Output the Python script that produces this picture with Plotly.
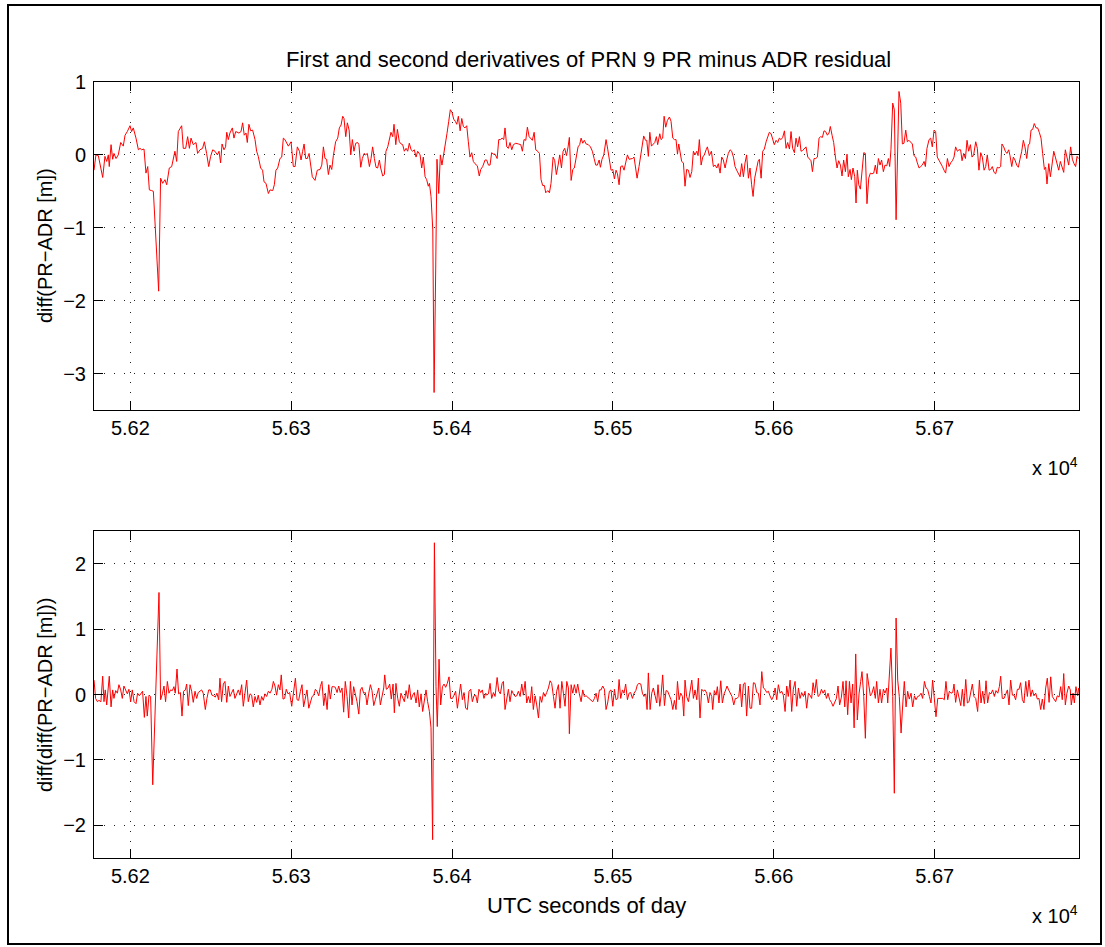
import plotly.graph_objects as go

# First derivative of the PR minus ADR residual (metres), sampled against UTC seconds of day
t_first = [
    56177.4, 56178.6, 56180.1, 56182.8, 56184.2, 56185.3, 56186.3, 56186.9, 56188.0, 56189.0,
    56189.8, 56191.1, 56192.5, 56194.0, 56195.6, 56196.7, 56198.1, 56199.8, 56200.8, 56201.8,
    56203.5, 56205.0, 56206.0, 56207.0, 56208.5, 56209.7, 56210.8, 56211.8, 56213.2, 56214.3,
    56217.6, 56218.8, 56220.1, 56221.5, 56222.6, 56223.2, 56224.2, 56225.7, 56226.7, 56227.7,
    56228.8, 56229.8, 56231.9, 56232.9, 56234.4, 56235.6, 56236.7, 56237.7, 56239.1, 56240.8,
    56241.8, 56243.3, 56244.9, 56246.0, 56247.4, 56248.7, 56249.9, 56251.2, 56252.6, 56254.1,
    56255.1, 56256.1, 56257.0, 56258.2, 56259.2, 56259.9, 56260.9, 56261.9, 56263.4, 56264.4,
    56265.5, 56266.5, 56267.5, 56268.8, 56269.8, 56270.8, 56271.9, 56272.7, 56273.7, 56274.8,
    56276.0, 56277.5, 56278.5, 56279.5, 56281.0, 56282.2, 56283.1, 56284.3, 56285.8, 56286.8,
    56288.5, 56289.5, 56290.5, 56291.6, 56293.0, 56294.1, 56295.1, 56296.1, 56297.2, 56298.2,
    56299.9, 56300.3, 56301.3, 56302.4, 56303.8, 56305.1, 56306.1, 56307.1, 56308.0, 56309.0,
    56310.0, 56311.1, 56312.1, 56313.1, 56314.8, 56316.2, 56317.9, 56319.0, 56320.0, 56321.0,
    56322.0, 56323.1, 56324.1, 56325.2, 56326.2, 56327.6, 56328.9, 56329.9, 56331.0, 56332.0,
    56332.8, 56333.9, 56334.9, 56336.0, 56337.0, 56338.0, 56339.0, 56340.1, 56341.3, 56342.1,
    56343.2, 56344.2, 56345.3, 56346.3, 56347.3, 56348.6, 56349.6, 56350.6, 56351.7, 56352.7,
    56353.7, 56354.8, 56355.6, 56356.9, 56357.9, 56358.9, 56360.0, 56361.0, 56362.0, 56363.1,
    56363.9, 56365.0, 56366.0, 56367.2, 56368.3, 56369.3, 56370.3, 56371.4, 56372.4, 56373.4,
    56374.5, 56375.5, 56376.5, 56377.6, 56378.6, 56380.1, 56381.1, 56382.1, 56383.2, 56384.2,
    56385.2, 56385.9, 56386.9, 56388.0, 56388.8, 56389.8, 56390.6, 56391.7, 56392.7, 56393.7,
    56394.8, 56395.8, 56396.8, 56397.9, 56398.9, 56400.0, 56401.0, 56402.0, 56402.9, 56403.9,
    56405.0, 56406.0, 56407.0, 56408.0, 56409.1, 56410.1, 56411.1, 56412.2, 56413.2, 56414.2,
    56415.7, 56416.9, 56417.8, 56419.0, 56420.5, 56421.5, 56422.6, 56423.6, 56424.6, 56425.7,
    56426.7, 56428.0, 56429.0, 56430.0, 56431.1, 56432.1, 56432.9, 56434.0, 56435.0, 56436.0,
    56437.1, 56438.1, 56439.6, 56441.2, 56442.7, 56443.7, 56444.7, 56445.8, 56446.8, 56447.9,
    56448.9, 56449.9, 56451.0, 56452.0, 56453.2, 56454.3, 56455.3, 56456.3, 56457.4, 56458.2,
    56459.5, 56460.5, 56461.5, 56462.8, 56463.8, 56464.8, 56465.9, 56466.9, 56468.0, 56469.0,
    56470.0, 56471.1, 56472.1, 56472.9, 56474.0, 56475.0, 56476.0, 56477.3, 56478.3, 56479.3,
    56480.2, 56481.2, 56482.2, 56483.3, 56484.7, 56486.0, 56487.2, 56488.3, 56489.3, 56490.3,
    56491.4, 56492.2, 56493.2, 56494.3, 56495.7, 56496.8, 56497.8, 56498.8, 56499.9, 56500.9,
    56501.9, 56502.8, 56503.8, 56504.8, 56505.9, 56506.9, 56507.9, 56509.0, 56510.0, 56511.0,
    56512.1, 56513.1, 56514.2, 56515.0, 56516.2, 56517.3, 56518.3, 56519.1, 56520.2, 56521.0,
    56522.0, 56522.9, 56523.9, 56524.9, 56526.0, 56527.0, 56527.8, 56529.1, 56529.9, 56530.9,
    56531.8, 56532.8, 56533.8, 56535.1, 56536.1, 56537.2, 56538.2, 56539.2, 56540.1, 56540.9,
    56542.7, 56543.8, 56544.8, 56545.8, 56546.9, 56547.9, 56549.0, 56550.0, 56551.0, 56552.1,
    56552.9, 56553.7, 56554.8, 56555.8, 56556.8, 56557.9, 56558.7, 56559.9, 56561.2, 56562.4,
    56563.5, 56564.5, 56565.5, 56566.6, 56567.6, 56568.6, 56569.7, 56570.7, 56571.7, 56572.8,
    56573.8, 56574.9, 56575.9, 56576.9, 56578.0, 56579.0, 56580.0, 56581.1, 56582.1, 56583.1,
    56584.2, 56585.2, 56586.2, 56587.1, 56588.1, 56589.1, 56590.2, 56591.0, 56592.1, 56593.1,
    56594.1, 56595.2, 56596.2, 56597.2, 56598.3, 56599.3, 56600.3, 56601.4, 56602.4, 56603.4,
    56604.5, 56605.5, 56606.6, 56607.6, 56608.6, 56609.7, 56610.7, 56611.7, 56612.8, 56613.8,
    56614.8, 56615.9, 56616.9, 56617.9, 56619.0, 56620.0, 56621.1, 56622.1, 56623.1, 56624.0,
    56625.0, 56626.0, 56627.1, 56628.1, 56629.1, 56630.2, 56631.2, 56632.2, 56633.3, 56634.3,
    56635.1, 56636.2, 56637.2, 56638.3, 56639.3, 56640.3, 56641.4, 56642.4, 56643.4, 56644.5,
    56645.5, 56646.3, 56647.4, 56648.2, 56649.2, 56650.3, 56651.1, 56651.9, 56652.8, 56653.8,
    56654.8, 56655.9, 56656.9, 56657.9, 56659.0, 56660.0, 56661.0, 56662.1, 56663.1, 56664.0,
    56665.0, 56666.0, 56667.0, 56668.1, 56669.1, 56670.2, 56671.2, 56672.0, 56672.8, 56673.9,
    56674.9, 56676.0, 56677.8, 56678.9, 56679.9, 56680.9, 56682.0, 56683.0, 56684.0, 56685.1,
    56686.1, 56687.1, 56688.2, 56689.2, 56690.3, 56691.3, 56692.3, 56693.4, 56694.2, 56695.2,
    56696.5, 56697.5, 56698.5, 56699.6, 56700.6, 56701.6, 56702.7, 56703.7, 56704.8, 56705.8,
    56706.8, 56707.9, 56708.9, 56709.9, 56711.0, 56712.0, 56713.0, 56714.1, 56715.1, 56716.1,
    56717.0, 56718.0, 56719.1, 56720.1, 56721.1, 56722.2, 56723.2, 56724.2, 56725.5, 56726.5,
    56727.5, 56728.6, 56729.6, 56730.7, 56731.7, 56732.7, 56733.8, 56734.8, 56735.8, 56736.9,
    56737.9, 56738.9, 56740.0, 56741.0, 56741.8, 56742.9, 56743.9, 56744.9, 56746.0, 56746.8,
    56747.9, 56748.9, 56749.9, 56751.0, 56752.0, 56753.0, 56754.1, 56755.1, 56756.1, 56757.2,
    56758.2, 56759.0, 56759.9, 56760.9, 56761.9, 56763.0, 56764.0, 56765.0, 56766.1, 56767.1,
    56768.2, 56769.0, 56769.8, 56770.9, 56771.9, 56772.9, 56774.0, 56775.0, 56776.0, 56777.1,
    56778.1, 56779.1, 56780.2, 56781.2, 56782.2, 56783.3, 56784.5, 56785.6, 56786.6, 56787.6,
    56788.5, 56789.3,
]
d_first = [
    -0.21, 0.00, -0.01, -0.31, -0.02, -0.09, 0.00, -0.16, 0.14, -0.06,
    0.02, -0.05, 0.00, 0.17, 0.12, 0.27, 0.32, 0.40, 0.32, 0.37,
    0.23, 0.07, 0.09, 0.07, 0.08, -0.25, -0.16, -0.48, -0.49, -0.50,
    -1.87, -0.32, -0.39, -0.34, -0.41, -0.30, -0.18, -0.16, -0.05, 0.05,
    -0.09, 0.32, 0.40, 0.09, 0.09, 0.25, 0.09, 0.23, 0.14, 0.17,
    0.02, 0.07, 0.09, 0.18, 0.02, -0.16, -0.02, 0.07, 0.05, 0.00,
    0.05, -0.11, 0.15, 0.07, 0.11, 0.31, 0.21, 0.30, 0.37, 0.23,
    0.32, 0.31, 0.30, 0.32, 0.44, 0.27, 0.30, 0.17, 0.42, 0.33,
    0.34, 0.21, 0.05, -0.02, -0.18, -0.21, -0.37, -0.39, -0.53, -0.48,
    -0.49, -0.41, -0.21, -0.18, -0.05, -0.03, 0.23, 0.21, 0.16, 0.12,
    0.18, 0.07, -0.16, -0.16, 0.11, 0.05, -0.07, 0.05, 0.15, -0.05,
    -0.05, 0.02, -0.14, -0.30, -0.35, -0.21, -0.20, -0.14, 0.11, -0.05,
    -0.06, -0.27, -0.14, -0.20, -0.01, 0.18, 0.23, 0.37, 0.41, 0.53,
    0.50, 0.25, 0.44, 0.34, 0.00, 0.21, 0.05, 0.16, 0.17, 0.14,
    -0.17, -0.05, 0.02, 0.00, 0.02, -0.16, -0.05, 0.11, -0.05, -0.17,
    -0.18, -0.07, -0.18, -0.29, -0.27, 0.05, 0.11, 0.20, 0.31, 0.25,
    0.42, 0.14, 0.35, 0.18, 0.15, 0.14, 0.05, 0.09, 0.05, 0.16,
    0.07, 0.05, 0.07, -0.03, 0.05, 0.00, -0.18, -0.03, -0.30, -0.34,
    -0.43, -0.39, -0.57, -1.03, -3.26, -1.58, -0.06, -0.53, 0.00, -0.14,
    0.00, 0.14, 0.29, 0.46, 0.62, 0.58, 0.49, 0.46, 0.42, 0.53,
    0.33, 0.50, 0.39, 0.37, 0.40, 0.18, -0.03, 0.03, -0.09, -0.12,
    -0.15, -0.29, -0.20, -0.16, -0.07, -0.07, -0.14, -0.14, 0.03, 0.01,
    0.01, -0.05, 0.21, 0.21, 0.23, 0.21, 0.37, 0.11, 0.09, 0.17,
    0.07, 0.14, 0.16, 0.15, 0.14, 0.05, 0.21, 0.20, 0.38, 0.25,
    0.23, 0.20, 0.31, 0.07, 0.05, 0.02, -0.34, -0.42, -0.42, -0.52,
    -0.49, -0.52, -0.39, -0.03, -0.08, -0.27, -0.14, 0.00, -0.18, 0.05,
    0.09, -0.01, 0.11, 0.24, -0.35, -0.20, -0.18, -0.01, 0.11, 0.14,
    0.23, 0.16, 0.20, 0.15, 0.14, 0.11, 0.05, -0.05, -0.14, -0.14,
    -0.07, -0.17, -0.06, 0.00, 0.21, 0.07, -0.11, -0.21, -0.20, -0.33,
    -0.21, -0.26, -0.41, -0.16, -0.15, -0.21, -0.11, 0.00, -0.06, -0.06,
    -0.05, -0.03, -0.25, -0.32, -0.16, 0.02, 0.16, 0.26, 0.20, 0.20,
    -0.02, 0.31, 0.12, 0.15, 0.17, 0.25, 0.14, 0.29, 0.21, 0.23,
    0.53, 0.38, 0.47, 0.52, 0.46, 0.23, 0.21, 0.21, 0.01, 0.15,
    -0.09, -0.11, -0.43, -0.20, -0.21, -0.31, -0.23, 0.05, 0.00, 0.05,
    -0.01, 0.21, -0.14, -0.03, 0.00, 0.07, 0.11, -0.01, 0.05, -0.16,
    -0.14, -0.18, -0.12, -0.25, -0.03, -0.07, -0.18, -0.07, 0.02, 0.07,
    0.05, -0.03, -0.16, -0.21, -0.27, -0.30, -0.12, -0.30, -0.11, 0.00,
    -0.32, -0.18, -0.41, -0.57, -0.32, -0.18, -0.09, -0.06, -0.32, 0.05,
    0.08, 0.18, 0.26, 0.31, 0.29, 0.21, 0.14, 0.20, 0.17, 0.23,
    0.21, 0.24, 0.33, 0.09, 0.17, 0.08, 0.32, 0.09, 0.03, 0.23,
    0.11, 0.25, 0.05, 0.06, 0.08, 0.11, -0.03, -0.05, -0.08, -0.23,
    -0.05, -0.05, -0.03, 0.23, 0.25, 0.24, 0.33, 0.32, 0.27, 0.30,
    0.39, 0.27, 0.17, -0.03, -0.18, -0.08, -0.14, -0.29, -0.07, -0.23,
    0.01, -0.30, -0.20, -0.34, -0.18, -0.30, -0.66, -0.21, -0.41, -0.47,
    -0.21, 0.03, 0.02, -0.67, -0.32, -0.25, -0.26, -0.25, -0.14, -0.26,
    -0.05, -0.14, -0.07, -0.23, -0.14, -0.15, -0.05, -0.16, 0.07, 0.71,
    0.62, -0.89, 0.87, 0.71, 0.15, 0.16, 0.34, 0.18, 0.20, 0.17,
    0.15, -0.01, -0.03, -0.11, -0.18, -0.16, -0.14, -0.09, -0.16, 0.09,
    0.21, 0.23, 0.11, 0.34, 0.32, -0.03, -0.07, -0.11, -0.16, -0.21,
    -0.25, -0.05, -0.16, -0.11, -0.08, -0.03, 0.11, 0.05, 0.07, 0.07,
    -0.08, 0.02, -0.05, 0.20, 0.05, 0.14, -0.03, 0.00, 0.18, 0.09,
    -0.21, 0.03, -0.03, -0.21, -0.16, 0.00, -0.21, -0.20, -0.16, -0.24,
    -0.26, -0.17, -0.18, -0.16, 0.15, 0.11, 0.05, 0.02, 0.07, -0.01,
    -0.16, -0.03, -0.07, -0.14, -0.17, -0.06, 0.05, 0.20, 0.11, -0.05,
    0.14, 0.15, 0.34, 0.35, 0.43, 0.37, 0.37, 0.31, 0.23, 0.02,
    -0.20, -0.17, -0.40, -0.12, -0.30, -0.14, 0.05, -0.03, -0.11, -0.21,
    -0.09, -0.16, -0.24, 0.07, -0.05, -0.14, 0.11, -0.06, -0.12, -0.16,
    -0.02, -0.05,
]

# Second derivative of the same residual
t_second = [
    56177.4, 56178.4, 56179.5, 56180.5, 56181.7, 56182.8, 56183.6, 56184.4, 56185.3, 56186.1,
    56186.9, 56188.0, 56189.0, 56189.8, 56190.9, 56191.9, 56192.9, 56194.0, 56195.0, 56196.0,
    56197.1, 56198.1, 56199.1, 56200.2, 56201.2, 56202.3, 56203.5, 56204.5, 56205.6, 56206.6,
    56207.6, 56208.7, 56209.7, 56210.5, 56211.6, 56212.6, 56213.9, 56217.8, 56218.8, 56219.9,
    56220.9, 56221.9, 56223.0, 56224.0, 56225.0, 56226.1, 56227.1, 56227.9, 56229.0, 56230.0,
    56231.1, 56232.1, 56233.1, 56234.2, 56235.0, 56236.0, 56237.1, 56238.1, 56239.1, 56240.2,
    56241.2, 56242.2, 56243.3, 56244.3, 56245.3, 56246.6, 56247.6, 56248.7, 56249.7, 56250.7,
    56251.8, 56252.8, 56253.8, 56254.9, 56255.7, 56256.7, 56257.8, 56258.8, 56259.9, 56260.9,
    56261.9, 56263.0, 56264.0, 56265.0, 56266.1, 56267.1, 56268.1, 56269.2, 56270.2, 56271.2,
    56272.3, 56273.3, 56274.4, 56275.4, 56276.4, 56277.5, 56278.5, 56279.5, 56280.6, 56281.6,
    56282.6, 56283.7, 56284.7, 56285.8, 56286.8, 56288.0, 56288.9, 56289.9, 56290.9, 56292.0,
    56293.0, 56293.8, 56294.9, 56295.9, 56296.9, 56298.0, 56299.0, 56300.3, 56301.3, 56302.6,
    56303.6, 56304.6, 56305.7, 56306.7, 56307.7, 56308.8, 56309.8, 56310.9, 56311.9, 56313.0,
    56314.0, 56315.0, 56316.0, 56317.1, 56318.1, 56319.1, 56320.2, 56321.2, 56322.3, 56323.3,
    56324.3, 56325.4, 56326.4, 56327.4, 56328.5, 56329.5, 56330.5, 56331.6, 56332.6, 56333.6,
    56334.7, 56335.7, 56336.8, 56337.8, 56338.8, 56339.9, 56340.9, 56342.0, 56343.0, 56344.0,
    56345.0, 56346.1, 56347.1, 56348.2, 56349.2, 56350.2, 56351.3, 56352.3, 56353.3, 56354.4,
    56355.4, 56356.4, 56357.5, 56358.1, 56359.1, 56360.2, 56361.2, 56362.2, 56363.3, 56364.1,
    56365.1, 56366.2, 56367.2, 56368.2, 56369.3, 56370.3, 56371.4, 56372.4, 56373.4, 56374.5,
    56375.5, 56376.5, 56377.6, 56378.6, 56379.6, 56380.7, 56381.7, 56382.8, 56383.8, 56384.8,
    56385.9, 56386.9, 56387.9, 56389.0, 56390.0, 56390.8, 56391.9, 56392.9, 56394.0, 56395.0,
    56396.0, 56397.0, 56398.1, 56399.1, 56400.2, 56401.2, 56402.2, 56403.3, 56404.3, 56405.3,
    56406.4, 56407.4, 56408.4, 56409.5, 56410.5, 56411.6, 56412.6, 56413.6, 56414.7, 56415.7,
    56416.7, 56417.8, 56418.8, 56419.8, 56420.9, 56421.5, 56422.6, 56423.6, 56424.6, 56425.7,
    56426.7, 56428.0, 56429.0, 56430.0, 56431.1, 56431.9, 56432.9, 56434.0, 56435.0, 56436.0,
    56437.1, 56438.1, 56439.2, 56440.2, 56441.2, 56442.3, 56443.3, 56444.3, 56445.4, 56446.4,
    56447.4, 56448.5, 56449.5, 56450.5, 56451.6, 56452.6, 56453.7, 56454.7, 56455.7, 56456.8,
    56457.8, 56458.8, 56459.9, 56460.9, 56461.9, 56463.0, 56464.0, 56465.0, 56466.1, 56467.1,
    56468.2, 56469.2, 56470.2, 56471.3, 56472.3, 56472.9, 56474.0, 56475.0, 56476.0, 56477.1,
    56478.1, 56479.1, 56480.2, 56481.2, 56482.2, 56483.3, 56484.3, 56485.4, 56486.4, 56487.4,
    56488.5, 56489.5, 56490.5, 56491.6, 56492.6, 56493.6, 56494.7, 56495.7, 56496.7, 56497.8,
    56498.8, 56499.9, 56500.9, 56501.9, 56503.0, 56503.8, 56504.8, 56505.9, 56506.9, 56507.9,
    56509.0, 56510.0, 56511.0, 56512.1, 56513.1, 56514.2, 56515.2, 56516.2, 56517.3, 56518.3,
    56519.3, 56520.4, 56521.2, 56522.0, 56523.1, 56524.1, 56525.1, 56526.2, 56527.2, 56528.0,
    56529.1, 56529.9, 56530.9, 56532.0, 56533.0, 56534.0, 56535.1, 56536.1, 56537.2, 56538.2,
    56539.2, 56540.1, 56541.1, 56542.1, 56543.2, 56544.0, 56544.8, 56545.8, 56546.9, 56547.9,
    56549.0, 56550.0, 56551.0, 56552.1, 56553.1, 56554.1, 56555.2, 56556.2, 56557.2, 56558.3,
    56559.3, 56560.3, 56561.4, 56562.0, 56563.0, 56564.1, 56564.9, 56565.9, 56567.0, 56568.0,
    56569.1, 56570.1, 56570.9, 56571.9, 56573.0, 56574.0, 56575.1, 56576.1, 56577.1, 56578.2,
    56579.0, 56580.0, 56581.1, 56582.1, 56583.1, 56584.2, 56585.2, 56586.2, 56587.3, 56588.3,
    56589.4, 56590.4, 56591.4, 56592.5, 56593.5, 56594.5, 56595.6, 56596.6, 56597.6, 56598.7,
    56599.7, 56600.8, 56601.8, 56602.8, 56603.9, 56604.9, 56605.9, 56607.0, 56608.0, 56609.0,
    56610.1, 56611.1, 56612.1, 56613.2, 56614.2, 56615.3, 56616.3, 56617.3, 56618.4, 56619.4,
    56620.4, 56621.5, 56622.5, 56623.5, 56624.4, 56625.4, 56626.4, 56627.5, 56628.5, 56629.6,
    56630.6, 56631.6, 56632.7, 56633.7, 56634.7, 56635.8, 56636.8, 56637.8, 56638.9, 56639.9,
    56640.9, 56642.0, 56643.0, 56644.1, 56644.9, 56645.9, 56647.0, 56648.0, 56649.0, 56649.9,
    56650.9, 56651.9, 56653.0, 56654.0, 56654.8, 56655.9, 56656.9, 56658.0, 56659.0, 56660.0,
    56661.0, 56662.1, 56663.1, 56663.9, 56665.0, 56666.0, 56667.0, 56668.1, 56669.1, 56670.2,
    56670.8, 56671.8, 56672.8, 56673.9, 56674.9, 56676.0, 56677.0, 56678.0, 56679.1, 56680.1,
    56681.1, 56682.2, 56683.2, 56684.2, 56685.3, 56686.3, 56687.4, 56688.4, 56689.4, 56690.5,
    56691.5, 56692.5, 56693.6, 56694.6, 56695.6, 56696.7, 56697.7, 56698.7, 56699.8, 56700.8,
    56701.9, 56702.9, 56703.9, 56705.0, 56706.0, 56707.0, 56708.1, 56709.1, 56710.1, 56711.2,
    56712.0, 56713.0, 56714.1, 56715.1, 56716.2, 56717.2, 56718.2, 56719.3, 56720.3, 56721.3,
    56722.4, 56723.4, 56724.4, 56725.5, 56726.7, 56727.8, 56728.8, 56729.8, 56730.9, 56731.9,
    56732.9, 56734.0, 56735.0, 56736.0, 56737.1, 56738.1, 56739.2, 56740.2, 56741.0, 56742.0,
    56743.1, 56744.1, 56745.2, 56746.2, 56747.2, 56748.3, 56749.3, 56750.3, 56751.4, 56752.4,
    56753.4, 56754.5, 56755.5, 56756.6, 56757.6, 56758.6, 56759.7, 56760.7, 56761.7, 56762.8,
    56763.8, 56764.8, 56765.9, 56766.9, 56767.9, 56769.0, 56770.0, 56771.1, 56772.1, 56773.1,
    56774.2, 56775.2, 56776.2, 56777.3, 56778.3, 56779.3, 56780.2, 56781.2, 56782.2, 56783.3,
    56784.3, 56784.9, 56786.0, 56786.8, 56787.8, 56788.9, 56789.5,
]
d_second = [
    0.22, -0.06, -0.11, -0.09, -0.11, 0.28, -0.11, 0.07, -0.16, 0.15,
    0.28, -0.19, 0.07, -0.06, 0.06, 0.02, 0.15, 0.07, -0.06, 0.13,
    0.06, 0.01, 0.08, -0.11, 0.07, -0.11, -0.14, 0.02, -0.02, 0.02,
    0.05, -0.35, -0.03, -0.33, -0.01, -0.03, -1.38, 1.56, -0.08, 0.01,
    0.13, -0.11, 0.20, 0.02, 0.07, 0.06, 0.12, 0.02, 0.39, 0.01,
    0.03, -0.33, 0.05, 0.07, 0.16, -0.17, 0.15, 0.05, -0.12, 0.05,
    -0.06, 0.03, 0.05, 0.07, 0.02, -0.23, -0.06, 0.07, 0.07, -0.01,
    -0.02, -0.04, 0.02, -0.08, 0.25, -0.11, 0.16, 0.20, -0.12, 0.13,
    -0.03, 0.02, 0.08, -0.06, 0.02, 0.07, -0.01, 0.15, -0.18, 0.02,
    0.22, -0.11, 0.01, -0.01, -0.19, -0.03, -0.12, -0.01, -0.16, -0.03,
    -0.09, 0.01, -0.03, 0.05, 0.02, 0.08, 0.20, 0.13, -0.01, 0.15,
    0.07, 0.30, -0.07, -0.06, 0.08, 0.01, 0.03, -0.18, -0.02, 0.25,
    -0.08, -0.09, 0.05, 0.15, -0.19, -0.06, 0.07, -0.21, -0.11, -0.03,
    -0.01, 0.08, 0.05, -0.02, 0.12, 0.20, -0.17, 0.02, -0.23, 0.15,
    -0.07, 0.12, 0.12, 0.11, 0.03, 0.13, 0.03, 0.10, -0.27, 0.20,
    -0.03, -0.36, 0.20, -0.16, 0.12, -0.01, -0.11, -0.30, 0.07, 0.11,
    0.02, 0.03, -0.16, 0.02, 0.15, 0.06, -0.17, -0.08, 0.03, 0.10,
    -0.16, -0.01, 0.10, 0.30, 0.08, 0.10, 0.16, -0.07, 0.16, -0.28,
    0.17, -0.06, -0.18, 0.02, -0.06, -0.11, 0.06, -0.06, 0.15, -0.08,
    -0.01, 0.03, -0.13, 0.07, -0.19, 0.01, -0.26, -0.06, 0.07, -0.11,
    -0.26, -0.51, -2.22, 2.32, 0.12, -0.49, 0.54, -0.16, 0.12, 0.16,
    0.11, 0.17, 0.27, -0.06, -0.06, -0.01, 0.05, -0.21, -0.01, 0.16,
    -0.08, 0.03, -0.21, -0.23, 0.05, 0.08, -0.11, -0.02, -0.01, -0.13,
    0.08, 0.03, 0.07, -0.06, 0.02, -0.01, 0.01, 0.17, -0.06, 0.03,
    -0.03, 0.26, 0.05, 0.01, 0.17, 0.20, -0.23, -0.03, 0.08, -0.11,
    0.06, 0.01, -0.03, -0.02, 0.05, -0.03, 0.16, -0.01, 0.20, -0.13,
    -0.03, -0.13, 0.12, -0.23, -0.02, -0.16, -0.36, -0.03, -0.12, 0.03,
    -0.03, 0.03, 0.10, 0.21, 0.17, -0.03, -0.21, 0.05, 0.15, -0.21,
    0.20, 0.02, -0.18, 0.20, 0.10, -0.60, 0.15, 0.02, 0.15, 0.02,
    0.16, 0.01, -0.11, 0.07, -0.03, -0.02, -0.04, -0.06, -0.09, -0.11,
    -0.06, 0.02, -0.11, 0.07, 0.07, 0.13, 0.08, -0.23, -0.13, 0.05,
    0.07, -0.18, 0.08, -0.08, -0.06, 0.23, -0.06, 0.07, 0.02, 0.16,
    -0.08, 0.02, 0.03, -0.06, 0.02, 0.06, 0.15, 0.17, 0.16, 0.02,
    -0.03, 0.01, -0.23, 0.33, -0.23, 0.02, 0.10, -0.03, -0.13, 0.15,
    -0.18, -0.02, 0.30, -0.17, 0.06, 0.05, -0.02, -0.08, -0.23, -0.09,
    -0.23, 0.20, -0.08, 0.02, -0.03, -0.33, 0.22, -0.03, -0.11, 0.07,
    0.22, -0.06, 0.07, -0.08, 0.25, -0.36, 0.08, 0.05, 0.07, 0.02,
    -0.13, 0.03, -0.03, -0.23, 0.06, -0.01, 0.12, -0.13, 0.21, -0.13,
    0.01, 0.07, 0.13, 0.07, 0.02, -0.03, -0.16, -0.06, -0.06, -0.03,
    0.16, -0.19, 0.16, 0.18, -0.33, 0.13, -0.21, -0.21, 0.18, 0.17,
    0.03, 0.02, -0.16, 0.35, 0.10, 0.08, 0.03, 0.05, -0.02, -0.08,
    -0.03, 0.10, -0.08, 0.15, 0.02, 0.05, -0.01, -0.26, 0.13, -0.03,
    0.22, -0.26, 0.08, 0.20, -0.18, 0.10, -0.06, 0.03, -0.03, 0.05,
    -0.21, 0.02, -0.01, -0.06, 0.18, 0.02, 0.23, -0.03, -0.01, 0.08,
    0.02, 0.07, -0.06, 0.02, -0.08, -0.12, -0.18, -0.11, -0.06, 0.13,
    -0.16, -0.04, 0.20, -0.19, 0.21, -0.31, 0.20, -0.13, 0.16, -0.51,
    0.62, -0.39, 0.02, 0.20, 0.35, -0.03, -0.67, 0.32, 0.17, -0.02,
    0.02, 0.12, -0.06, 0.20, -0.13, 0.08, -0.13, 0.08, 0.02, 0.10,
    -0.13, 0.22, 0.71, -0.03, -1.51, 1.17, 0.22, -0.03, -0.59, -0.16,
    0.20, -0.19, 0.05, -0.07, 0.02, -0.19, -0.02, -0.08, -0.03, -0.02,
    0.02, -0.06, 0.20, 0.10, 0.08, -0.03, -0.13, 0.22, -0.13, -0.34,
    -0.06, -0.06, -0.07, -0.06, -0.08, 0.20, -0.08, 0.05, 0.02, 0.03,
    0.16, -0.12, 0.07, -0.03, -0.17, 0.08, -0.18, 0.23, -0.13, -0.11,
    0.07, 0.16, -0.03, -0.06, -0.26, 0.22, -0.13, 0.05, -0.14, 0.21,
    -0.13, 0.03, 0.01, 0.07, -0.03, 0.06, 0.02, 0.12, 0.28, -0.06,
    -0.06, 0.02, 0.07, -0.16, 0.22, -0.01, -0.01, -0.08, 0.08, 0.08,
    0.18, -0.08, -0.13, 0.20, -0.03, 0.22, -0.03, 0.07, -0.02, 0.02,
    -0.07, -0.06, -0.23, -0.07, -0.23, 0.10, 0.25, -0.12, 0.27, -0.03,
    -0.08, -0.11, -0.02, -0.04, 0.12, -0.08, 0.32, -0.16, 0.02, 0.13,
    0.07, -0.16, 0.02, -0.13, 0.12, -0.02, 0.10,
]

# Axis ticks (x in units of 10^4 s)
x_tickvals = [56200, 56300, 56400, 56500, 56600, 56700]
x_ticktext = ["5.62", "5.63", "5.64", "5.65", "5.66", "5.67"]
y_first_ticks = [-3, -2, -1, 0, 1]
y_second_ticks = [-2, -1, 0, 1, 2]

W, H = 1105, 947
FONT = "Liberation Sans"


def px_x(p):
    return p / W


def px_y(p):
    return 1 - p / H


fig = go.Figure()
fig.add_trace(go.Scatter(x=t_first, y=d_first, mode="lines",
                         line=dict(color="#ff0000", width=1),
                         xaxis="x", yaxis="y", showlegend=False))
fig.add_trace(go.Scatter(x=t_second, y=d_second, mode="lines",
                         line=dict(color="#ff0000", width=1),
                         xaxis="x2", yaxis="y2", showlegend=False))

common = dict(
    showline=True, linecolor="black", linewidth=1, mirror="ticks",
    ticks="inside", ticklen=9, tickcolor="black", tickwidth=1,
    showgrid=True, gridcolor="#222222", gridwidth=1, griddash="1px,9px",
    zeroline=False, automargin=False,
    tickfont=dict(family=FONT, size=20, color="black"),
)
x_range = [56177.4, 56789.7]
x_dom = [px_x(94), px_x(1079)]

fig.update_layout(
    width=W, height=H,
    margin=dict(l=0, r=0, t=0, b=0),
    paper_bgcolor="white", plot_bgcolor="white",
    font=dict(family=FONT, size=20, color="black"),
    xaxis=dict(common, domain=x_dom, range=x_range, anchor="y",
               tickvals=x_tickvals, ticktext=x_ticktext),
    yaxis=dict(common, domain=[px_y(410), px_y(82)], range=[-3.5, 1], anchor="x",
               tickvals=y_first_ticks, ticklabelstandoff=3),
    xaxis2=dict(common, domain=x_dom, range=x_range, anchor="y2",
                tickvals=x_tickvals, ticktext=x_ticktext),
    yaxis2=dict(common, domain=[px_y(858), px_y(531)], range=[-2.5, 2.5], anchor="x2",
                tickvals=y_second_ticks, ticklabelstandoff=3),
)

# (text, x px, y px, angle, font size)
labels = [
    ("First and second derivatives of PRN 9 PR minus ADR residual", 588, 60, 0, 22),
    ("diff(PR\u2212ADR [m])", 45, 246, -90, 20),
    ("diff(diff(PR\u2212ADR [m]))", 45, 695, -90, 20),
    ("UTC seconds of day", 586.5, 905, 0, 22),
]
annotations = [
    dict(text=t, x=px_x(xp), y=px_y(yp), textangle=ang, xanchor="center",
         yanchor="middle", font=dict(family=FONT, size=sz, color="black"))
    for t, xp, yp, ang, sz in labels
]
for yp in (466, 914):
    annotations.append(dict(text="x 10<sup>4</sup>", x=px_x(1080), y=px_y(yp),
                            xanchor="right", yanchor="middle",
                            font=dict(family=FONT, size=20, color="black")))
for a in annotations:
    a.update(xref="paper", yref="paper", showarrow=False)
fig.update_layout(annotations=annotations)

# Frame around the whole figure
fig.add_shape(type="rect", xref="paper", yref="paper",
              x0=px_x(8), x1=px_x(1101), y0=px_y(944), y1=px_y(5),
              line=dict(color="black", width=2), fillcolor="rgba(0,0,0,0)")

fig.write_html("out.html")
